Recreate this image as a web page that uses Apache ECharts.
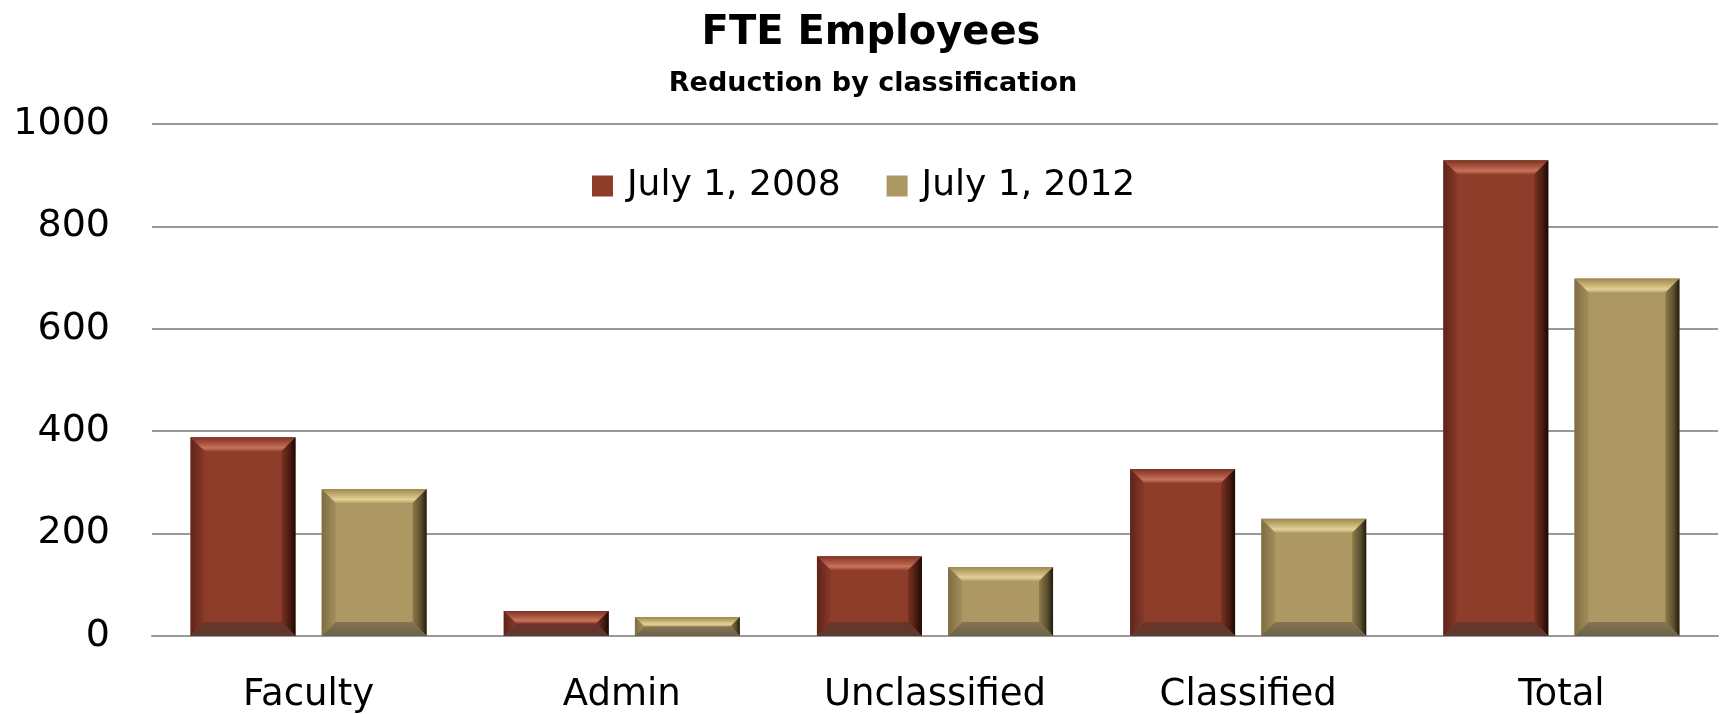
<!DOCTYPE html>
<html>
<head>
<meta charset="utf-8">
<script src="https://cdn.jsdelivr.net/npm/echarts@6/dist/echarts.min.js"></script>
<style>html,body{margin:0;padding:0;background:#fff;}#c{width:1720px;height:714px;}</style>
</head>
<body>
<div id="c"></div>
<script>
const categories = ['Faculty', 'Admin', 'Unclassified', 'Classified', 'Total'];
const seriesNames = ['July 1, 2008', 'July 1, 2012'];
const values2008 = [388, 49, 156, 326, 929];
const values2012 = [287, 37, 135, 229, 698];
const yTicks = [0, 200, 400, 600, 800, 1000];

const FONT = '"DejaVu Sans", sans-serif';

const palettes = [
  { face: '#8f3d2b',
    top: ['#7e3323', '#b05a45', '#c8735e', '#9a4430'],
    left: ['#5e2418', '#88392a'],
    right: ['#7a3222', '#4a1b10', '#1a0805'],
    bottom: ['#6e3326', '#5a3a33'] },
  { face: '#ad9762',
    top: ['#9c8752', '#cdb878', '#e2d196', '#b9a46c'],
    left: ['#7d6d44', '#a38e5b'],
    right: ['#8c7a4a', '#5a4e2e', '#1f1b0e'],
    bottom: ['#857550', '#6a624c'] }
];

function lin(vertical, stops) {
  const n = stops.length;
  const offs = n === 4 ? [0, 0.5, 0.75, 1] : (n === 3 ? [0, 0.6, 1] : [0, 1]);
  return {
    type: 'linear', x: 0, y: 0, x2: vertical ? 0 : 1, y2: vertical ? 1 : 0,
    colorStops: stops.map((c, k) => ({offset: offs[k], color: c}))
  };
}

function makeRender(sIdx) {
  const p = palettes[sIdx];
  return function (params, api) {
    const i = api.value(0), v = api.value(1);
    const bw = api.size([1, 0])[0];
    const w = bw * 0.335, gap = w * 0.25;
    const cx = api.coord([i, 0])[0];
    const X0 = cx - (2 * w + gap) / 2 + sIdx * (w + gap), X1 = X0 + w;
    const Y0 = api.coord([i, v])[1], Y1 = api.coord([i, 0])[1];
    const h = Y1 - Y0;
    const b = Math.min(14, h / 2, w / 2);
    return {
      type: 'group',
      children: [
        {type: 'rect', shape: {x: X0, y: Y0, width: w, height: h}, style: {fill: p.face}},
        {type: 'polygon', shape: {points: [[X0, Y0], [X1, Y0], [X1 - b, Y0 + b], [X0 + b, Y0 + b]]}, style: {fill: lin(true, p.top)}},
        {type: 'polygon', shape: {points: [[X0, Y0], [X0 + b, Y0 + b], [X0 + b, Y1 - b], [X0, Y1]]}, style: {fill: lin(false, p.left)}},
        {type: 'polygon', shape: {points: [[X1, Y0], [X1, Y1], [X1 - b, Y1 - b], [X1 - b, Y0 + b]]}, style: {fill: lin(false, p.right)}},
        {type: 'polygon', shape: {points: [[X0, Y1], [X0 + b, Y1 - b], [X1 - b, Y1 - b], [X1, Y1]]}, style: {fill: lin(true, p.bottom)}}
      ]
    };
  };
}

const chart = echarts.init(document.getElementById('c'));
chart.setOption({
  backgroundColor: '#ffffff',
  animation: false,
  title: [
    { text: 'FTE Employees', left: 866, textAlign: 'center', top: 9,
      textStyle: {fontFamily: FONT, fontWeight: 'bold', fontSize: 40, color: '#000'} },
    { text: 'Reduction by classification', left: 868, textAlign: 'center', top: 65,
      textStyle: {fontFamily: FONT, fontWeight: 'bold', fontSize: 27, color: '#000'} }
  ],
  legend: {
    data: seriesNames,
    left: 587,
    top: 163,
    icon: 'rect',
    itemWidth: 21,
    itemHeight: 21,
    itemGap: 46,
    textStyle: {fontFamily: FONT, fontSize: 36, lineHeight: 36, color: '#000', padding: [0, 0, 0, 9]}
  },
  grid: {left: 152, right: 2, top: 124, bottom: 78, containLabel: false},
  xAxis: {
    type: 'category',
    data: categories,
    axisLine: {show: true, lineStyle: {color: '#999', width: 2}},
    axisTick: {show: false},
    axisLabel: {fontFamily: FONT, fontSize: 37, color: '#000', margin: 41}
  },
  yAxis: {
    type: 'value',
    min: 0, max: 1000, interval: 200,
    axisLine: {show: false},
    axisTick: {show: false},
    splitLine: {lineStyle: {color: '#999', width: 2}},
    axisLabel: {fontFamily: FONT, fontSize: 38, color: '#000', margin: 42,
      formatter: v => yTicks.includes(v) ? String(v) : ''}
  },
  series: [
    { name: seriesNames[0], type: 'custom', renderItem: makeRender(0),
      encode: {x: 0, y: 1}, itemStyle: {color: palettes[0].face},
      data: values2008.map((v, i) => [i, v]) },
    { name: seriesNames[1], type: 'custom', renderItem: makeRender(1),
      encode: {x: 0, y: 1}, itemStyle: {color: palettes[1].face},
      data: values2012.map((v, i) => [i, v]) }
  ]
});
</script>
</body>
</html>
